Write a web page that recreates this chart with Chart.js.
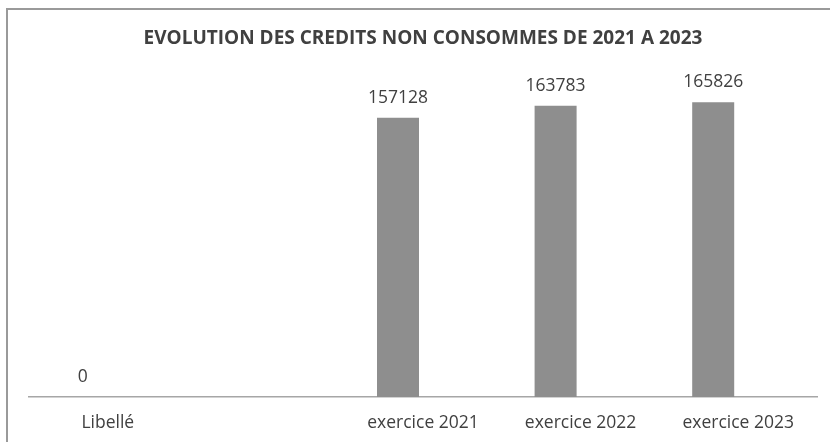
<!DOCTYPE html>
<html>
<head>
<meta charset="utf-8">
<script src="https://cdn.jsdelivr.net/npm/chart.js@4/dist/chart.umd.min.js"></script>
<style>
  html, body { margin: 0; padding: 0; background: #fff; overflow: hidden; }
  #wrap { position: relative; width: 830px; height: 442px; }
  #frame { position: absolute; left: 6px; top: 8px; width: 840px; height: 450px;
           border-top: 2px solid #9a9a9a; border-left: 2px solid #9a9a9a; box-sizing: border-box; }
  canvas { position: absolute; left: 0; top: 0; }
</style>
</head>
<body>
<div id="wrap">
  <div id="frame"></div>
  <canvas id="c" width="830" height="442"></canvas>
</div>
<script>
const categories = ['Libellé', '', 'exercice 2021', 'exercice 2022', 'exercice 2023'];
const creditsNonConsommes = [0, null, 157128, 163783, 165826];
const secondSeries = [null, null, null, null, null];
const chartTitle = 'EVOLUTION DES CREDITS NON CONSOMMES DE 2021 A 2023';

const FONT = "'Open Sans', 'Liberation Sans', sans-serif";
const TEXT = '#404040';

const labelPlugin = {
  id: 'valueLabels',
  afterDatasetsDraw(chart) {
    const ctx = chart.ctx;
    const meta = chart.getDatasetMeta(0);
    const data = chart.data.datasets[0].data;
    ctx.save();
    ctx.font = '17.5px ' + FONT;
    ctx.fillStyle = TEXT;
    ctx.textAlign = 'center';
    ctx.textBaseline = 'middle';
    meta.data.forEach((el, i) => {
      const v = data[i];
      if (v === null || v === undefined) return;
      ctx.fillText(String(v), el.x, el.y - 20);
    });
    ctx.restore();
  }
};

new Chart(document.getElementById('c'), {
  type: 'bar',
  data: {
    labels: categories,
    datasets: [
      { data: creditsNonConsommes, backgroundColor: '#8e8e8e', borderWidth: 0,
        categoryPercentage: 0.6345, barPercentage: 0.84 },
      { data: secondSeries, backgroundColor: '#bdbdbd', borderWidth: 0,
        categoryPercentage: 0.6345, barPercentage: 0.84 }
    ]
  },
  options: {
    responsive: false,
    animation: false,
    layout: { padding: { left: 29, right: 13, top: 0, bottom: 0 } },
    plugins: {
      legend: { display: false },
      tooltip: { enabled: false },
      title: {
        display: true,
        text: chartTitle,
        color: TEXT,
        font: { family: FONT, size: 19, weight: 'bold' },
        padding: { top: 27.6, bottom: 26.6 }
      }
    },
    scales: {
      x: {
        grid: { display: false, drawTicks: false },
        border: { display: true, color: '#a6a6a6', width: 1.5 },
        ticks: { color: TEXT, font: { family: FONT, size: 17.5 }, padding: 16, maxRotation: 0, autoSkip: false },
        afterFit(scale) { scale.height = 45; }
      },
      y: {
        display: false,
        min: 0,
        max: 180000
      }
    }
  },
  plugins: [labelPlugin]
});
</script>
</body>
</html>
